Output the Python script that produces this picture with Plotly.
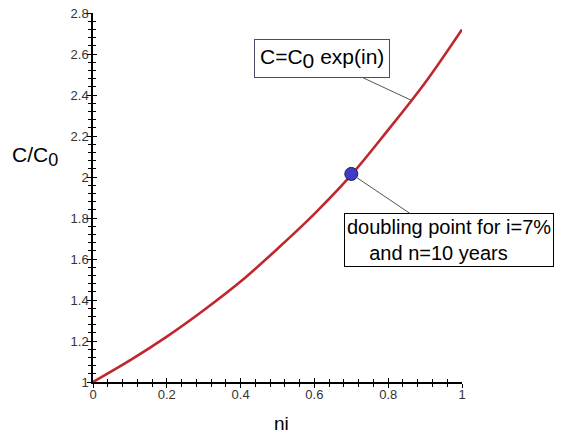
import plotly.graph_objects as go

# Values
ni = [0.0, 0.1, 0.2, 0.3, 0.4, 0.5, 0.6, 0.7, 0.8, 0.9, 1.0]
ratio = [1.0, 1.105, 1.221, 1.35, 1.49, 1.65, 1.82, 2.01, 2.23, 2.46, 2.72]
doubling_ni = [0.70]
doubling_ratio = [2.015]
label_point_ni = 0.864
label_point_ratio = 2.373

x_tickvals = [0, 0.2, 0.4, 0.6, 0.8, 1.0]
x_ticktext = ["0", "0.2", "0.4", "0.6", "0.8", "1"]
y_tickvals = [1.0, 1.2, 1.4, 1.6, 1.8, 2.0, 2.2, 2.4, 2.6, 2.8]
y_ticktext = ["1", "1.2", "1.4", "1.6", "1.8", "2", "2.2", "2.4", "2.6", "2.8"]

FONT = "Liberation Sans, Arial, sans-serif"

fig = go.Figure()
fig.add_trace(go.Scatter(x=ni, y=ratio, mode="lines",
                         line=dict(color="#c0272d", width=2.6, shape="spline"),
                         hoverinfo="skip", showlegend=False))
fig.add_trace(go.Scatter(x=doubling_ni, y=doubling_ratio, mode="markers",
                         marker=dict(color="#3c3cc4", size=13,
                                     line=dict(color="#1c1c60", width=1)),
                         hoverinfo="skip", showlegend=False))
# invisible trace to carry the overlay axes (outside ticks)
fig.add_trace(go.Scatter(x=ni, y=ratio, mode="lines", xaxis="x2", yaxis="y2",
                         line=dict(width=0), opacity=0, hoverinfo="skip",
                         showlegend=False))

axis_common = dict(showgrid=False, zeroline=False, showline=True,
                   linecolor="black", linewidth=1.5, tickcolor="black",
                   tickwidth=1.2, automargin=False)

fig.update_layout(
    width=561, height=436,
    margin=dict(l=93, r=99, t=13, b=54),
    paper_bgcolor="white", plot_bgcolor="white",
    font=dict(family=FONT, size=13, color="#333333"),
    xaxis=dict(range=[0, 1], tickvals=x_tickvals, ticktext=x_ticktext,
               ticks="inside", ticklen=4,
               minor=dict(ticks="inside", dtick=0.04, ticklen=3,
                          tickcolor="black", tickwidth=1.2),
               tickfont=dict(size=13, color="#333333"), **axis_common),
    yaxis=dict(range=[1, 2.8], tickvals=y_tickvals, ticktext=y_ticktext,
               ticks="inside", ticklen=4,
               minor=dict(ticks="inside", dtick=0.04, ticklen=3,
                          tickcolor="black", tickwidth=1.2),
               tickfont=dict(size=13, color="#333333"), **axis_common),
    xaxis2=dict(range=[0, 1], overlaying="x", anchor="y", side="bottom",
                tickvals=x_tickvals, ticks="outside", ticklen=4,
                showticklabels=False,
                minor=dict(ticks="outside", dtick=0.04, ticklen=3,
                           tickcolor="black", tickwidth=1.2),
                **axis_common),
    yaxis2=dict(range=[1, 2.8], overlaying="y", anchor="x", side="left",
                tickvals=y_tickvals, ticks="outside", ticklen=4,
                showticklabels=False,
                minor=dict(ticks="outside", dtick=0.04, ticklen=3,
                           tickcolor="black", tickwidth=1.2),
                **axis_common),
    annotations=[
        dict(text="C/C<sub><span style='font-size:18px'>0</span></sub>",
             xref="paper", yref="paper", x=-0.157, y=0.61,
             xanchor="center", yanchor="middle", showarrow=False,
             font=dict(family=FONT, size=21, color="black")),
        dict(text="ni", xref="paper", yref="paper",
             x=0.512, y=-0.112, xanchor="center", yanchor="middle",
             showarrow=False,
             font=dict(family=FONT, size=19, color="black")),
        dict(text="C=C<sub><span style='font-size:21px'>0</span></sub> exp(in)",
             x=label_point_ni, y=label_point_ratio, xref="x", yref="y",
             ax=-90, ay=-42, showarrow=True, arrowhead=0,
             arrowcolor="#555555", arrowwidth=1,
             bordercolor="#4a4a6a", borderwidth=1, borderpad=5,
             bgcolor="white",
             font=dict(family=FONT, size=21, color="black")),
        dict(text="doubling point for i=7%<br>\u00a0\u00a0\u00a0\u00a0and n=10 years",
             align="left", x=doubling_ni[0], y=doubling_ratio[0],
             xref="x", yref="y", ax=98, ay=66, showarrow=True, arrowhead=0,
             arrowcolor="#555555", arrowwidth=1, standoff=6,
             bordercolor="black", borderwidth=1, borderpad=2,
             bgcolor="white",
             font=dict(family=FONT, size=20, color="black")),
    ],
)

fig.write_html("out.html", config={"displayModeBar": False},
               post_script="document.body.style.margin='0';")
